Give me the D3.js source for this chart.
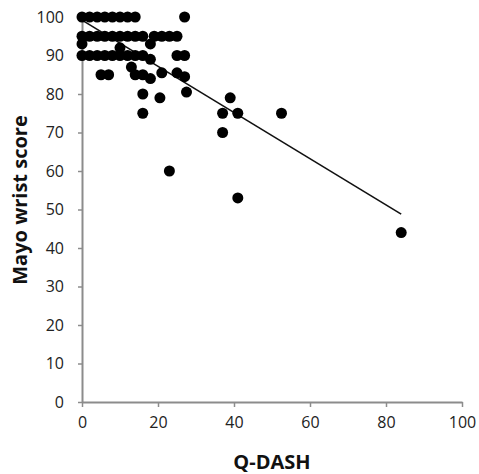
<!DOCTYPE html>
<html><head><meta charset="utf-8">
<script src="https://cdn.jsdelivr.net/npm/d3@7"></script>
<style>body{margin:0;background:#fff}svg{display:block}</style>
</head><body>
<svg id="c" width="479" height="474"></svg>
<script>
const qdash = [0,2,4,6,8,10,12,14,27,
  0,2,4,6,8,10,12,14,16,19,21,23,25,
  0,10,18,
  0,2,4,6,8,10,12,14,16,18,25,27,
  5,7,13,14,16,18,21,25,27,
  16,20.5,27.5,39,
  16,37,41,52.5,
  37,23,41,84];
const mayo = [100,100,100,100,100,100,100,100,100,
  95,95,95,95,95,95,95,95,95,95,95,95,95,
  93,92,93,
  90,90,90,90,90,90,90,90,90,89,90,90,
  85,85,87,85,85,84,85.5,85.5,84.5,
  80,79,80.5,79,
  75,75,75,75,
  70,60,53,44];
const trendX = [0,84];
const trendY = [99.2,48.8];
const xTicks = [0,20,40,60,80,100];
const yTicks = [0,10,20,30,40,50,60,70,80,90,100];

const svg = d3.select("#c");
const x = d3.scaleLinear().domain([0,100]).range([82,462]);
const y = d3.scaleLinear().domain([0,100]).range([402,17]);
const font = "'Open Sans', Lato, sans-serif";

const xa = svg.append("g").attr("transform","translate(0,402)")
  .call(d3.axisBottom(x).tickValues(xTicks).tickSize(5).tickPadding(10).tickSizeOuter(0));
const ya = svg.append("g").attr("transform","translate(82,0)")
  .call(d3.axisLeft(y).tickValues(yTicks).tickSize(4).tickPadding(14).tickSizeOuter(0));
[xa,ya].forEach(a=>{
  a.select(".domain").attr("stroke","#8c8c8c").attr("stroke-width",2);
  a.selectAll(".tick line").attr("stroke","#8c8c8c").attr("stroke-width",1.5);
  a.selectAll(".tick text").attr("fill","#222").style("font-family",font).style("font-size","16px");
});

svg.append("line")
  .attr("x1",x(trendX[0])).attr("y1",y(trendY[0]))
  .attr("x2",x(trendX[1])).attr("y2",y(trendY[1]))
  .attr("stroke","#111").attr("stroke-width",1.6);

svg.append("g").selectAll("circle").data(qdash.map((d,i)=>[d,mayo[i]])).join("circle")
  .attr("cx",d=>x(d[0])).attr("cy",d=>y(d[1])).attr("r",5.5).attr("fill","#000");

svg.append("text").attr("x",272).attr("y",469).attr("text-anchor","middle")
  .style("font-family",font).style("font-weight","bold").style("font-size","20px").attr("fill","#111").text("Q-DASH");
svg.append("text").attr("transform","translate(27,200) rotate(-90)").attr("text-anchor","middle")
  .style("font-family",font).style("font-weight","bold").style("font-size","20px").attr("fill","#111").text("Mayo wrist score");
</script>
</body></html>
